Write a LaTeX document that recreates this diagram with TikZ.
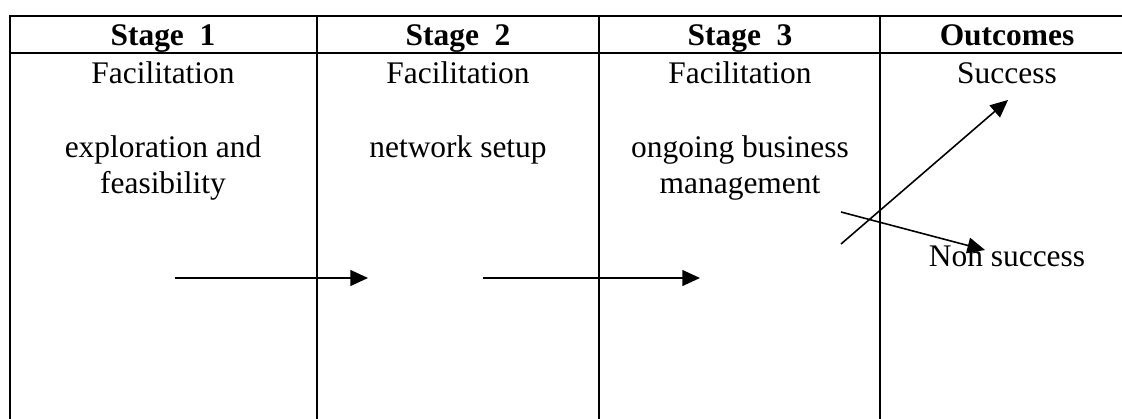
\documentclass[tikz,border=0pt]{standalone}
\usepackage{fontspec}
\setmainfont{Liberation Serif}
\usetikzlibrary{arrows.meta}

\begin{document}
\begin{tikzpicture}[
    x=0.02cm, y=-0.02cm,
    every node/.style={inner sep=0pt, anchor=base, align=center,
        font=\fontsize{17.9}{20.4}\selectfont},
    head/.style={font=\fontsize{17.9}{20.4}\selectfont\bfseries},
    rule/.style={line width=1.1pt},
    flow/.style={line width=0.9pt, -{Triangle[length=10pt,width=9pt]}}
]
\useasboundingbox (0,0) rectangle (1122,419);

% Khung bảng
\draw[rule] (1122,16) -- (10,16) -- (10,419);
\draw[rule] (10,53) -- (1122,53);
\draw[rule] (317,16) -- (317,419);
\draw[rule] (599,16) -- (599,419);
\draw[rule] (880,16) -- (880,419);

% Tiêu đề các cột
\node[head] (H1) at (163,45) {Stage\ \ 1};
\node[head] (H2) at (458,45) {Stage\ \ 2};
\node[head] (H3) at (740,45) {Stage\ \ 3};
\node[head] (H4) at (1007,45) {Outcomes};

% Nội dung các giai đoạn
\node (F1) at (163,83) {Facilitation};
\node (F2) at (458,83) {Facilitation};
\node (F3) at (740,83) {Facilitation};
\node (T1) at (163,193) {exploration and\\feasibility};
\node (T2) at (458,157) {network setup};
\node (T3) at (740,193) {ongoing business\\management};
\node (S) at (1007,83) {Success};
\node (N) at (1007,266) {Non success};

% Điểm đầu và cuối của các mũi tên
\coordinate (A1) at (175,278);
\coordinate (B1) at (368,278);
\coordinate (A2) at (483,278);
\coordinate (B2) at (700,278);
\coordinate (A3) at (841,244);
\coordinate (B3) at (1008,100);
\coordinate (A4) at (841,212);
\coordinate (B4) at (985,250);

% Vẽ các mũi tên
\draw[flow] (A1) -- (B1);
\draw[flow] (A2) -- (B2);
\draw[flow] (A3) -- (B3);
\draw[flow] (A4) -- (B4);
\end{tikzpicture}
\end{document}
